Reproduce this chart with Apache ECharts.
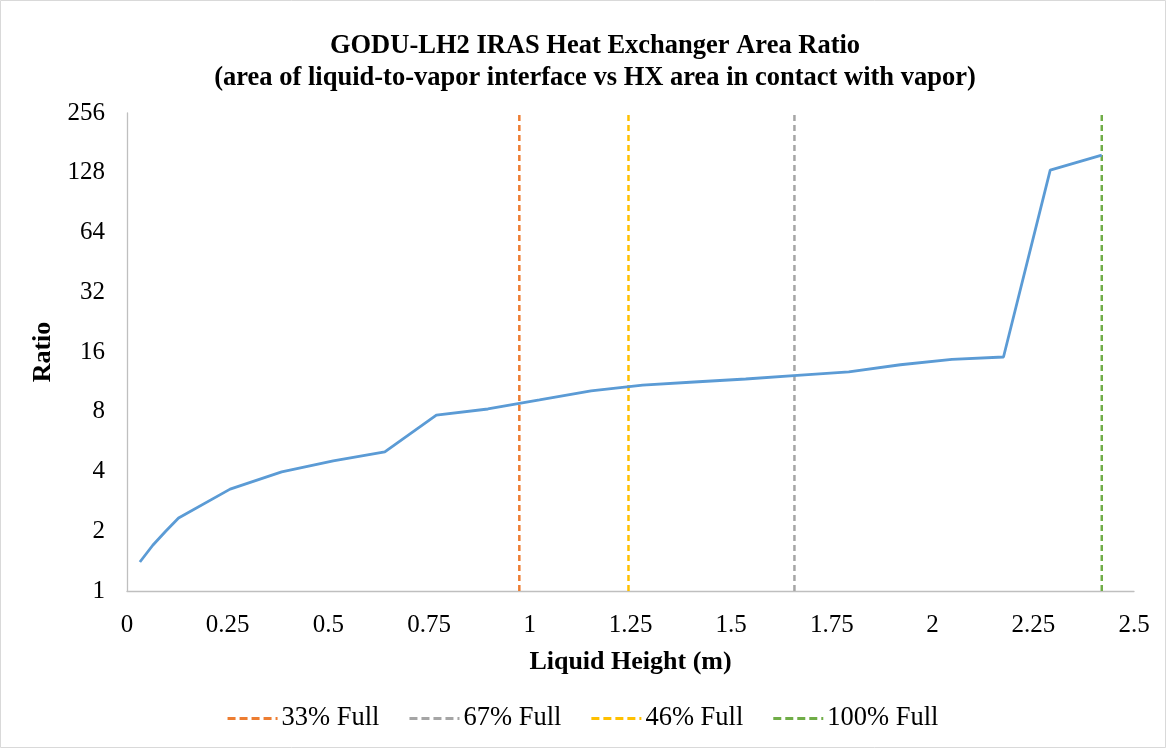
<!DOCTYPE html>
<html>
<head>
<meta charset="utf-8">
<script src="https://cdn.jsdelivr.net/npm/echarts@6/dist/echarts.min.js"></script>
<style>
  html, body { margin: 0; padding: 0; background: #fff; }
  #chart { width: 1166px; height: 748px; }
</style>
</head>
<body>
<div id="chart"></div>
<script>
// Liquid height (m) and heat-exchanger area ratio
const heights = [0.032, 0.064, 0.096, 0.128, 0.256, 0.384, 0.512, 0.640, 0.768, 0.896, 1.024, 1.152, 1.280, 1.408, 1.536, 1.664, 1.792, 1.920, 2.048, 2.176, 2.292, 2.420];
const ratios  = [1.40, 1.70, 2.00, 2.33, 3.26, 3.98, 4.52, 5.02, 7.70, 8.26, 9.17, 10.2, 10.9, 11.3, 11.7, 12.2, 12.7, 13.8, 14.7, 15.1, 132, 157];

// Fill-level markers (liquid height, m)
const levelNames   = ['33% Full', '67% Full', '46% Full', '100% Full'];
const levelHeights = [0.974, 1.657, 1.245, 2.42];
const levelColors  = ['#ED7D31', '#A5A5A5', '#FFC000', '#70AD47'];

const yMin = 1, yMax = 256;
const xTicks = [0, 0.25, 0.5, 0.75, 1, 1.25, 1.5, 1.75, 2, 2.25, 2.5];

const font = 'Liberation Serif, Times New Roman, serif';

// dashed legend swatch: four dashes and a short end dot
const dashIcon = 'path://M0,0h8v3h-8z M12,0h8v3h-8z M24,0h8v3h-8z M36,0h8v3h-8z M48,0h2v3h-2z';

const chart = echarts.init(document.getElementById('chart'));

const levelSeries = levelNames.map((name, i) => ({
  name: name,
  type: 'line',
  data: [[levelHeights[i], yMin], [levelHeights[i], yMax]],
  symbol: 'none',
  silent: true,
  lineStyle: { color: levelColors[i], width: 2.5, type: [6, 4] },
  itemStyle: { color: levelColors[i] },
  z: 3
}));

chart.setOption({
  animation: false,
  backgroundColor: '#fff',
  graphic: [{
    type: 'rect',
    shape: { x: 0.5, y: 0.5, width: 1165, height: 747 },
    style: { fill: 'none', stroke: '#D9D9D9', lineWidth: 1 },
    silent: true
  }],
  title: {
    text: 'GODU-LH2 IRAS Heat Exchanger Area Ratio\n(area of liquid-to-vapor interface vs HX area in contact with vapor)',
    left: 590,
    top: 25,
    textAlign: 'center',
    textStyle: { fontFamily: font, fontSize: 26.5, fontWeight: 'bold', color: '#000', lineHeight: 32 }
  },
  legend: {
    data: levelNames,
    bottom: 11,
    left: 'center',
    itemWidth: 50,
    itemHeight: 3,
    itemGap: 30,
    icon: dashIcon,
    textStyle: { fontFamily: font, fontSize: 26.5, color: '#000', padding: [0, 0, 0, -1] }
  },
  grid: { left: 127, right: 32, top: 113, bottom: 157, containLabel: false },
  xAxis: {
    type: 'value',
    min: 0,
    max: 2.5,
    interval: 0.25,
    name: 'Liquid Height (m)',
    nameLocation: 'middle',
    nameGap: 58,
    nameTextStyle: { fontFamily: font, fontSize: 26, fontWeight: 'bold', color: '#000' },
    axisLine: { show: true, lineStyle: { color: '#BFBFBF', width: 1.3 } },
    axisTick: { show: false },
    splitLine: { show: false },
    axisLabel: {
      fontFamily: font, fontSize: 25, color: '#000', margin: 22,
      formatter: v => xTicks.includes(+v.toFixed(2)) ? String(+v.toFixed(2)) : ''
    }
  },
  yAxis: {
    type: 'log',
    logBase: 2,
    min: yMin,
    max: yMax,
    splitNumber: 8,
    name: 'Ratio',
    nameLocation: 'middle',
    nameGap: 68,
    nameRotate: 90,
    nameTextStyle: { fontFamily: font, fontSize: 26, fontWeight: 'bold', color: '#000' },
    axisLine: { show: true, lineStyle: { color: '#BFBFBF', width: 1.3 } },
    axisTick: { show: false },
    splitLine: { show: false },
    axisLabel: { fontFamily: font, fontSize: 25, color: '#000', margin: 22 }
  },
  series: [{
    name: 'Area Ratio',
    type: 'line',
    data: heights.map((h, i) => [h, ratios[i]]),
    symbol: 'none',
    lineStyle: { color: '#5B9BD5', width: 2.8 },
    z: 4
  }].concat(levelSeries)
});
</script>
</body>
</html>
